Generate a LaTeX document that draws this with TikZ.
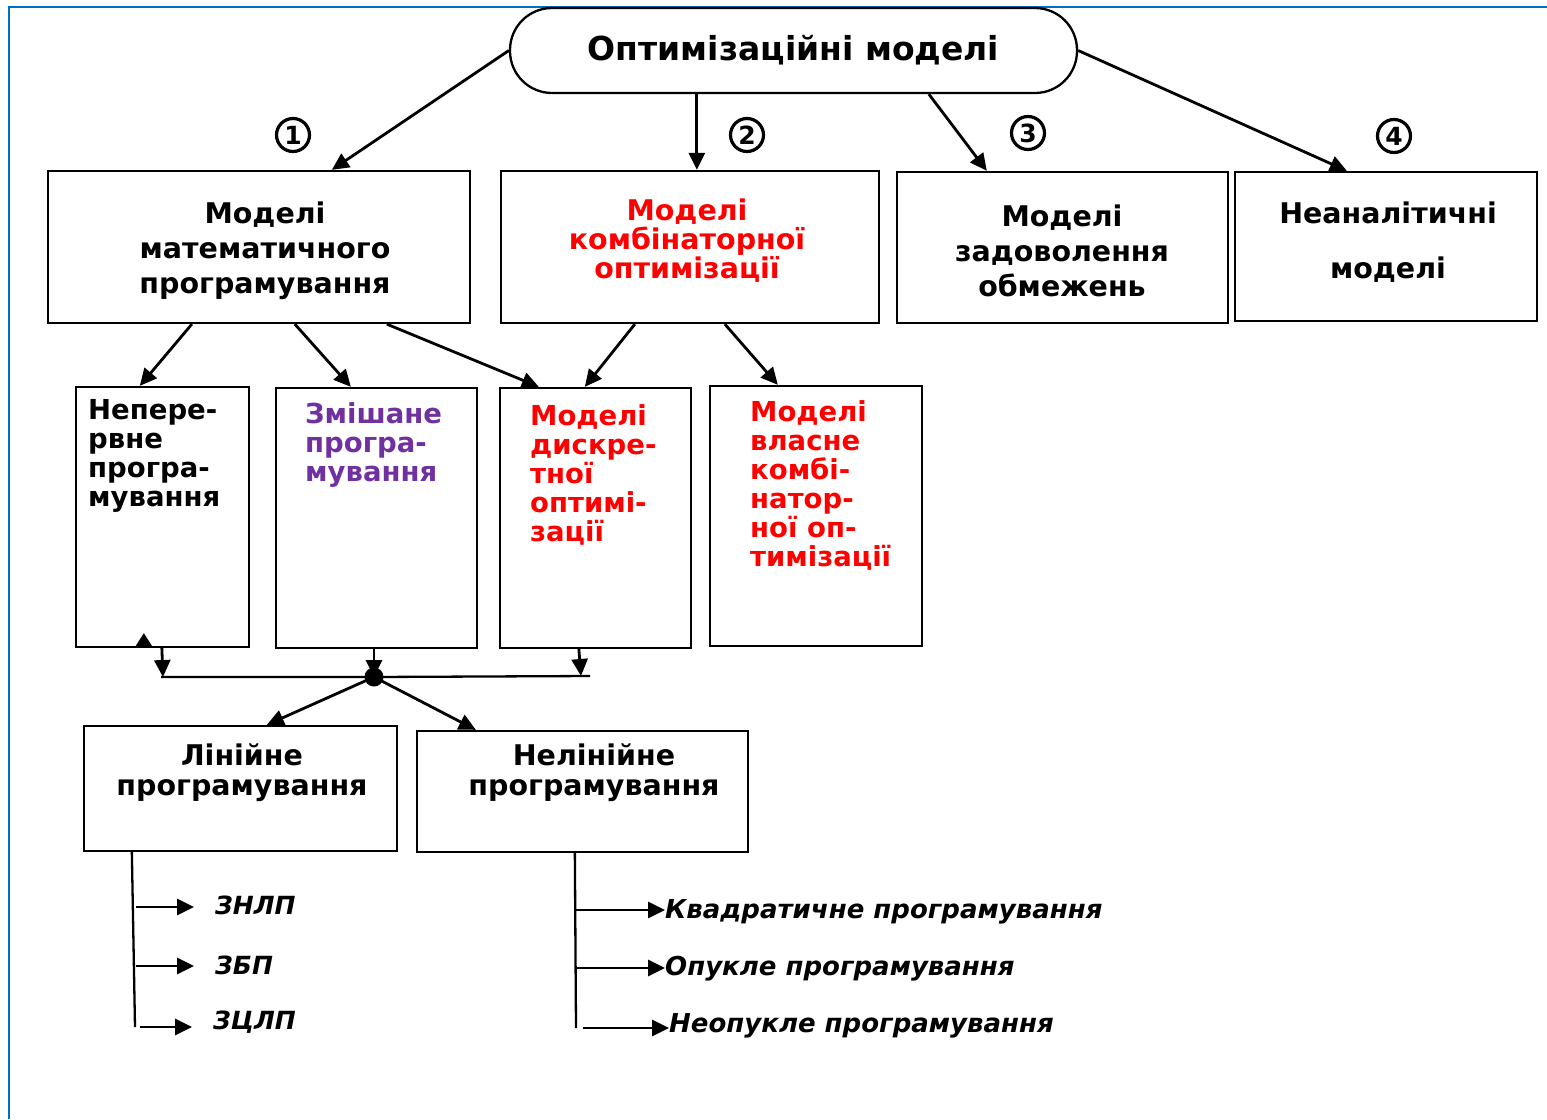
\documentclass[tikz,border=0pt]{standalone}
\usepackage{fontspec}
\setmainfont{DejaVu Sans}
\usetikzlibrary{arrows.meta}
\definecolor{frameblue}{RGB}{0,112,192}
\definecolor{mypurple}{RGB}{112,48,160}
\definecolor{myred}{RGB}{255,0,0}
\begin{document}
\begin{tikzpicture}[x=1pt,y=-1pt,
  box/.style={draw, line width=2.3pt, inner sep=0pt},
  arr/.style={line width=2.8pt, -{Triangle[length=17pt,width=16pt]}},
  plain/.style={line width=2.3pt},
  hdr/.style={font=\bfseries\fontsize{28.5}{35}\selectfont, align=center, inner sep=0pt},
  col/.style={font=\bfseries\fontsize{27.5}{29}\selectfont, align=left, inner sep=0pt, anchor=north west},
  leaf/.style={font=\bfseries\itshape\fontsize{26}{28}\selectfont, inner sep=0pt, anchor=west},
  num/.style={circle, draw, line width=3.2pt, minimum size=33pt, inner sep=0pt, font=\bfseries\fontsize{25}{25}\selectfont}
]
\useasboundingbox (0,0) rectangle (1547,1119);
\fill[white] (0,0) rectangle (1547,1119);
% blue frame
\draw[frameblue, line width=2.3pt] (9,1119) -- (9,7) -- (1547,7);

% title
\node[draw, line width=2.3pt, rounded corners=42pt, minimum width=567pt, minimum height=85pt, inner sep=0pt,
  font=\bfseries\fontsize{33}{36}\selectfont] (title) at (793.5,50.5) {Оптимізаційні моделі};

% top row boxes
\node[box, minimum width=422pt, minimum height=152pt] (b1) at (259,247) {};
\node[hdr] (b1t) at (265,251) {Моделі\\математичного\\програмування};
\node[box, minimum width=378pt, minimum height=152pt] (b2) at (690,247) {};
\node[hdr, text=myred, font=\bfseries\fontsize{28.5}{29}\selectfont] (b2t) at (687,241) {Моделі\\комбінаторної\\оптимізації};
\node[box, minimum width=331pt, minimum height=151pt] (b3) at (1062.5,247.5) {};
\node[hdr] (b3t) at (1062,251) {Моделі\\задоволення\\обмежень};
\node[box, minimum width=302pt, minimum height=149pt] (b4) at (1386,246.5) {};
\node[hdr, font=\bfseries\fontsize{28.5}{55}\selectfont] (b4t) at (1388,242) {Неаналітичні\\моделі};

% circled numbers
\node[num] (n1) at (293,135) {1};
\node[num] (n2) at (747,135) {2};
\node[num] (n3) at (1028,133) {3};
\node[num] (n4) at (1394,136) {4};

% arrows from title
\draw[arr] (title.west) -- ([xshift=285pt]b1.north west);
\draw[arr] ([xshift=188pt]title.south west) -- ([xshift=197pt]b2.north west);
\draw[arr] ([xshift=420pt]title.south west) -- ([xshift=91pt]b3.north west);
\draw[arr] (title.east) -- ([xshift=113pt]b4.north west);

% second row boxes
\node[box, minimum width=173pt, minimum height=260pt] (b5) at (162.5,517) {};
\node[col] (b5t) at (88,399) {Непере-\\рвне\\програ-\\мування};
\node[box, minimum width=201pt, minimum height=260pt] (b6) at (376.5,518) {};
\node[col, text=mypurple] (b6t) at (305,402) {Змішане\\програ-\\мування};
\node[box, minimum width=191pt, minimum height=260pt] (b7) at (595.5,518) {};
\node[col, text=myred] (b7t) at (530,404) {Моделі\\дискре-\\тної\\оптимі-\\зації};
\node[box, minimum width=212pt, minimum height=260pt] (b8) at (816,516) {};
\node[col, text=myred] (b8t) at (750,400) {Моделі\\власне\\комбі-\\натор-\\ної оп-\\тимізації};

% arrows to second row
\draw[arr] ([xshift=145pt]b1.south west) -- ([xshift=65pt]b5.north west);
\draw[arr] ([xshift=248pt]b1.south west) -- ([xshift=76pt]b6.north west);
\draw[arr] ([xshift=340pt]b1.south west) -- ([xshift=40pt]b7.north west);
\draw[arr] ([xshift=135pt]b2.south west) -- ([xshift=86pt]b7.north west);
\draw[arr] ([xshift=225pt]b2.south west) -- ([xshift=69pt]b8.north west);

% stray arrowhead inside b5
\draw[line width=2pt, -{Triangle[length=13pt,width=16pt]}] ([xshift=69pt]b5.south west) -- ++(0,-15);

% bus
\coordinate (busL) at (161,677);
\coordinate (busR) at (590,676);
\coordinate (j1) at (163,677);
\coordinate (j3) at (581,676);
\node[circle, fill=black, inner sep=0pt, minimum size=19pt] (dot) at (374,677) {};
\draw[plain] (busL) -- (dot.center) -- (busR);
\draw[arr] ([xshift=87pt]b5.south west) -- (j1);
\draw[arr] (b6.south -| dot) -- (dot.center);
\draw[arr] ([xshift=80pt]b7.south west) -- (j3);

% third row
\node[box, minimum width=313pt, minimum height=125pt] (lin) at (240.5,788.5) {};
\node[hdr, font=\bfseries\fontsize{28.5}{30}\selectfont] (lint) at (242,773) {Лінійне\\програмування};
\node[box, minimum width=331pt, minimum height=121pt] (nlin) at (582.5,791.5) {};
\node[hdr, font=\bfseries\fontsize{28.5}{30}\selectfont] (nlint) at (594,773) {Нелінійне\\програмування};
\draw[arr] (dot.center) -- ([xshift=184pt]lin.north west);
\draw[arr] (dot.center) -- ([xshift=60pt]nlin.north west);

% left tree
\coordinate (lb) at (135,1027);
\draw[plain] ([xshift=49pt]lin.south west) -- (lb);
\node[leaf, font=\bfseries\itshape\fontsize{25}{28}\selectfont] (l1) at (215,905) {ЗНЛП};
\node[leaf, font=\bfseries\itshape\fontsize{25}{28}\selectfont] (l2) at (215,965) {ЗБП};
\node[leaf, font=\bfseries\itshape\fontsize{25}{28}\selectfont] (l3) at (213,1022) {ЗЦЛП};
\draw[arr] (136,907) -- ([xshift=-21pt]l1.west |- 0,907);
\draw[arr] (136,966) -- ([xshift=-21pt]l2.west |- 0,966);
\draw[arr] (lb) ++(5,0) -- ([xshift=-21pt]l3.west |- 0,1027);

% right tree
\coordinate (rb) at (576,1028);
\draw[plain] ([xshift=159pt]nlin.south west) -- (rb);
\node[leaf] (r1) at (665,912) {Квадратичне програмування};
\node[leaf] (r2) at (665,969) {Опукле програмування};
\node[leaf] (r3) at (669,1026) {Неопукле програмування};
\draw[arr] (576,910) -- (r1.west |- 0,910);
\draw[arr] (576,968) -- (r2.west |- 0,968);
\draw[arr] (583,1028) -- (r3.west |- 0,1028);
\end{tikzpicture}
\end{document}
